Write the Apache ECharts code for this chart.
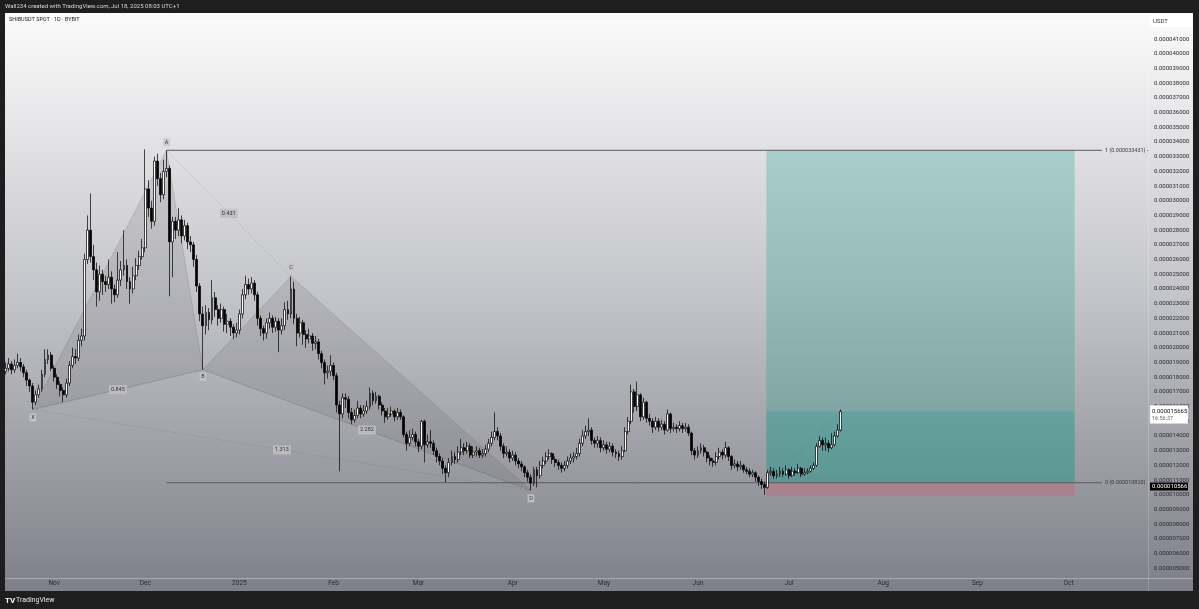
<!DOCTYPE html>
<html><head><meta charset="utf-8">
<script src="https://cdn.jsdelivr.net/npm/echarts@6/dist/echarts.min.js"></script>
<style>html,body{margin:0;padding:0;background:#1e1e1e;overflow:hidden}#c{width:1199px;height:609px}</style>
</head><body><div id="c"></div>
<script>
// ---- DATA (prices in units of 1e-6 USDT) ----
const startDate = [2024, 9, 16];   // 16 Oct 2024 (first category)
const numDays = 377;                 // categories through 27 Oct 2025
const firstOpen = 18.4;
const closes = [
18.6,18.9,18.5,18.8,19.0,18.7,18.3,17.8,17.4,16.3,
16.8,17.2,18.2,19.2,19.5,18.6,18.0,17.5,17.1,16.8,
17.6,18.8,19.4,19.3,20.5,20.8,26.0,28.0,26.2,25.3,
23.8,25.0,24.5,24.3,24.8,24.0,23.6,24.6,25.3,25.6,
24.5,24.0,24.9,25.6,26.2,26.8,30.8,29.5,28.6,32.7,
31.5,30.4,32.0,32.2,27.2,28.6,28.0,28.7,27.6,28.3,
27.2,27.0,26.0,24.2,22.3,21.5,22.4,21.9,23.4,22.6,
22.0,22.6,21.6,21.8,21.4,21.0,21.2,22.3,23.6,24.3,
24.0,24.4,23.6,22.0,21.3,21.0,21.7,22.0,21.4,21.8,
21.2,21.5,22.6,22.3,24.0,22.0,21.0,21.7,20.9,20.6,
20.8,20.3,20.4,19.6,19.0,18.3,18.4,18.8,18.1,16.1,
15.5,16.6,16.5,15.6,15.1,15.4,15.9,15.5,15.7,16.0,
16.9,16.4,16.7,16.1,15.7,15.3,15.5,15.7,15.3,15.6,
15.3,14.1,13.5,13.9,14.1,13.6,13.3,15.0,13.4,13.6,
13.5,13.0,12.6,12.3,11.8,11.5,12.2,12.6,12.4,12.9,
13.2,13.0,13.3,12.7,12.9,13.0,12.7,12.8,13.1,13.5,
13.9,14.3,14.0,13.3,12.8,12.9,12.5,12.7,12.3,12.1,
11.9,11.5,11.2,10.8,11.7,11.3,12.0,12.3,12.6,12.8,
12.4,12.2,12.0,11.8,12.0,12.3,12.5,12.6,12.8,13.5,
14.0,14.3,14.4,13.7,13.5,13.7,13.2,13.4,13.1,13.3,
12.9,12.8,12.6,13.0,14.3,15.0,17.0,16.0,16.8,15.3,
16.3,15.2,15.0,14.6,15.0,14.6,14.8,14.4,15.5,14.5,
14.6,14.5,14.7,14.5,14.6,14.2,13.0,12.7,13.0,13.2,
12.9,12.5,12.3,12.2,12.6,12.9,12.7,13.2,12.6,12.0,
12.1,11.9,12.0,11.7,11.6,11.4,11.5,11.2,10.9,10.7,
10.5,11.5,11.6,11.3,11.4,11.6,11.4,11.7,11.3,11.6,
11.5,11.8,11.4,11.5,11.6,11.8,12.0,13.3,13.7,13.4,
13.5,13.2,13.4,14.0,14.4,15.665];
const highs = [
19.0,19.3,19.1,19.2,19.6,19.3,18.9,18.5,17.9,17.6,
17.1,17.5,18.5,19.9,19.9,19.7,18.8,18.2,17.7,17.3,
17.9,19.1,20.0,19.9,20.9,21.3,26.4,29.0,30.5,27.0,
25.8,25.6,25.3,24.9,26.0,25.2,24.3,26.5,25.9,28.0,
26.0,24.8,25.5,26.1,26.6,27.4,33.5,31.4,30.0,33.0,
33.2,31.9,32.8,33.431,32.4,28.9,28.9,29.5,29.0,28.7,
28.5,27.6,27.2,26.3,24.4,22.8,22.9,22.7,24.6,23.8,
22.9,23.0,22.8,22.3,22.0,21.6,21.7,22.6,24.0,24.9,
24.7,24.8,24.6,23.8,22.2,21.5,22.0,22.4,22.2,22.1,
22.0,22.0,23.1,23.2,24.85,24.5,22.3,22.1,21.9,21.2,
21.3,21.0,20.8,20.6,19.8,19.2,18.8,19.5,19.0,18.3,
16.4,16.9,16.9,16.7,15.9,15.8,16.4,16.1,16.1,16.4,
17.3,17.1,17.0,16.8,16.3,15.9,15.9,16.0,15.8,15.9,
15.8,15.4,14.3,14.4,14.5,14.3,13.8,15.1,15.1,14.1,
14.4,13.7,13.2,12.8,12.5,12.0,12.5,13.0,12.9,13.3,
13.8,13.5,13.6,13.5,13.3,13.3,13.2,13.1,13.4,13.8,
14.3,15.6,14.6,14.2,13.5,13.3,13.1,13.0,12.9,12.5,
12.3,12.0,11.7,11.4,11.9,11.9,12.3,12.6,12.9,13.1,
12.9,12.6,12.4,12.2,12.3,12.6,12.8,12.9,13.2,13.8,
14.4,14.7,15.2,14.6,13.9,14.0,13.9,13.7,13.6,13.6,
13.5,13.1,13.0,13.3,14.6,15.3,17.5,17.2,17.7,16.9,
16.6,16.4,15.5,15.2,15.3,15.2,15.1,15.0,15.8,15.6,
14.9,14.8,15.0,14.9,14.9,14.8,14.3,13.2,13.3,13.5,
13.4,13.0,12.7,12.5,12.9,13.2,13.1,13.6,13.3,12.7,
12.4,12.3,12.3,12.1,11.9,11.8,11.7,11.6,11.3,11.1,
10.9,11.7,11.9,11.8,11.7,11.9,11.8,12.0,11.8,11.9,
11.8,12.1,11.9,11.8,11.8,12.0,12.2,13.5,14.0,13.9,
13.9,13.7,14.2,14.3,14.8,15.8];
const lows = [
18.2,18.4,18.2,18.3,18.6,18.4,18.0,17.4,17.0,15.8,
16.1,16.6,17.0,18.0,18.9,18.4,17.7,17.2,16.7,16.3,
16.6,17.4,18.6,18.9,19.1,20.1,20.5,25.7,25.8,24.6,
22.8,23.2,23.6,23.8,24.0,23.0,23.1,23.4,24.2,24.9,
24.0,23.0,23.7,24.6,25.3,26.0,26.5,28.9,28.1,28.3,
31.0,29.9,30.1,31.6,23.5,24.8,27.4,27.6,27.1,27.3,
26.7,26.5,25.5,23.8,21.8,18.5,20.9,21.2,21.6,22.1,
21.5,21.7,21.1,21.0,20.8,20.6,20.7,20.9,22.0,23.3,
23.6,23.7,23.2,21.5,20.8,20.5,20.6,21.3,21.0,21.1,
19.7,20.9,21.2,21.9,22.0,21.6,20.1,20.7,20.2,20.0,
20.3,19.8,19.9,19.2,18.6,17.5,17.9,18.1,17.8,15.6,
11.6,15.2,15.9,15.2,14.8,14.9,15.2,15.2,15.3,15.5,
15.8,16.1,16.2,15.8,15.4,14.9,15.1,15.3,15.0,15.1,
15.1,13.9,13.0,13.3,13.7,13.3,12.9,13.1,12.2,13.2,
13.2,12.7,12.2,12.0,11.4,10.85,11.2,12.0,12.1,12.2,
12.7,12.7,12.8,12.5,12.5,12.6,12.5,12.5,12.6,12.9,
13.3,13.7,13.7,13.0,12.5,12.6,12.2,12.3,12.0,11.8,
11.6,11.2,10.9,10.3,10.6,10.5,11.1,11.8,12.1,12.4,
12.1,11.9,11.7,11.5,11.6,11.8,12.1,12.2,12.4,12.6,
13.3,13.8,14.0,13.4,13.2,13.2,12.9,13.0,12.8,12.9,
12.6,12.5,12.3,12.4,12.9,14.1,14.8,15.6,15.7,15.0,
15.1,14.9,14.7,14.2,14.4,14.3,14.4,14.1,14.3,14.2,
14.3,14.2,14.3,14.2,14.3,14.0,12.7,12.4,12.5,12.8,
12.6,12.2,12.0,11.9,12.0,12.4,12.4,12.5,12.3,11.7,
11.8,11.6,11.7,11.5,11.4,11.2,11.2,10.9,10.6,10.4,
10.0,10.4,11.3,11.1,11.1,11.2,11.2,11.3,11.1,11.2,
11.3,11.4,11.2,11.3,11.4,11.5,11.7,11.9,13.2,13.0,
13.0,12.9,13.1,13.3,13.9,14.3];
const tickLabels = {'2024-11':'Nov','2024-12':'Dec','2025-01':'2025','2025-02':'Feb','2025-03':'Mar','2025-04':'Apr',
  '2025-05':'May','2025-06':'Jun','2025-07':'Jul','2025-08':'Aug','2025-09':'Sep','2025-10':'Oct'};
const yMin = 5, yMax = 42, yStep = 1;
// harmonic pattern points [category index, price]
const pointNames = ['X','A','B','C','D'];
const pointIdx   = [9, 53, 65, 94, 173];
const pointPrice = [15.8, 33.431, 18.5, 24.85, 10.3];
const ratioLegs  = [['X','B','0.845'],['A','C','0.431'],['B','D','2.282'],['X','D','1.313']];
// fib levels
const fibLevels = [1, 0];
const fibPrices = [33.431, 10.82];
const fibFromIdx = 53, fibToIdx = 361;
// long position tool
const posFromIdx = 251, posToIdx = 352;
const posEntry = 10.82, posTarget = 33.431, posStop = 9.95, lastPrice = 15.665;
const countdown = '16:56:37';
const markerPrice = 10.566;

// ---- build ----
const dates = [];
for (let k = 0; k < numDays; k++) {
  const d = new Date(Date.UTC(startDate[0], startDate[1], startDate[2] + k));
  dates.push(d.toISOString().slice(0, 10));
}
const candles = closes.map((c, i) => [i === 0 ? firstOpen : closes[i - 1], c, lows[i], highs[i]]);
const fmt = v => (v / 1e6).toFixed(9);
const FONT = 'Roboto';

const chart = echarts.init(document.getElementById('c'));
chart.setOption({
  backgroundColor: '#1e1e1e',
  animation: false,
  grid: { left: 4, right: 50, top: 24.3, bottom: 40.7 },
  xAxis: {
    type: 'category', data: dates, boundaryGap: true,
    axisLine: { show: false }, axisTick: { show: false }, splitLine: { show: false },
    axisLabel: {
      interval: (idx, val) => val.slice(8) === '01' && tickLabels[val.slice(0, 7)] !== undefined,
      formatter: val => tickLabels[val.slice(0, 7)] || '',
      fontSize: 6.5, color: '#2a2a30', margin: 12, fontFamily: FONT
    }
  },
  yAxis: {
    type: 'value', position: 'right', min: yMin, max: yMax, interval: yStep,
    axisLine: { show: false }, axisTick: { show: false }, splitLine: { show: false },
    axisLabel: { showMaxLabel: false, formatter: fmt, fontSize: 6, color: '#2a2a30', margin: 5, fontFamily: FONT }
  },
  series: [{
    type: 'candlestick', data: candles, barWidth: 2.4, z: 5,
    itemStyle: { color: '#ffffff', color0: '#000000', borderColor: '#000000', borderColor0: '#000000', borderWidth: 0.7 }
  }]
});

const P = (i, v) => chart.convertToPixel({ xAxisIndex: 0, yAxisIndex: 0 }, [i, v]);
const pt = {};
pointNames.forEach((n, k) => pt[n] = P(pointIdx[k], pointPrice[k]));
const g = [];
// panel background
g.push({ type: 'rect', z: -100, silent: true, shape: { x: 5, y: 13, width: 1188, height: 578 },
  style: { fill: new echarts.graphic.LinearGradient(0, 0, 0, 1, [{ offset: 0, color: '#fbfbfb' }, { offset: 0.5, color: '#c2c3c8' }, { offset: 1, color: '#7e7f88' }]) } });
// separators
g.push({ type: 'line', z: -90, silent: true, shape: { x1: 1148.5, y1: 13, x2: 1148.5, y2: 591 }, style: { stroke: 'rgba(255,255,255,0.2)', lineWidth: 1 } });
g.push({ type: 'line', z: -90, silent: true, shape: { x1: 5, y1: 578.5, x2: 1193, y2: 578.5 }, style: { stroke: 'rgba(255,255,255,0.3)', lineWidth: 1 } });
// header texts
g.push({ type: 'text', z: 50, silent: true, style: { text: 'Wall234 created with TradingView.com, Jul 18, 2025 08:03 UTC+1', x: 5, y: 6.5, fill: '#d8d8d8', fontSize: 6, fontFamily: FONT, verticalAlign: 'middle' } });
g.push({ type: 'text', z: 50, silent: true, style: { text: 'SHIBUSDT SPOT · 1D · BYBIT', x: 9, y: 19.5, fill: '#222', fontSize: 5.5, fontFamily: FONT, verticalAlign: 'middle' } });
g.push({ type: 'rect', z: 40, silent: true, shape: { x: 1150, y: 14, width: 42, height: 13 }, style: { fill: '#ffffff' } });
g.push({ type: 'text', z: 50, silent: true, style: { text: 'USDT', x: 1153, y: 21, fill: '#333', fontSize: 6, fontFamily: FONT, verticalAlign: 'middle' } });
// TradingView logo
g.push({ type: 'text', z: 50, silent: true, style: { text: 'TV', x: 5, y: 600.5, fill: '#ffffff', fontSize: 8, fontWeight: 'bold', fontFamily: FONT, verticalAlign: 'middle' } });
g.push({ type: 'text', z: 50, silent: true, style: { text: 'TradingView', x: 16, y: 600.5, fill: '#e8e8e8', fontSize: 7, fontFamily: FONT, verticalAlign: 'middle' } });

// harmonic triangles
const tri = (a, b, c) => ({ type: 'polygon', z: 1, silent: true, shape: { points: [pt[a], pt[b], pt[c]] },
  style: { fill: 'rgba(95,95,100,0.16)', stroke: 'rgba(90,90,95,0.35)', lineWidth: 0.6 } });
g.push(tri('X', 'A', 'B'));
g.push(tri('B', 'C', 'D'));
ratioLegs.forEach(([a, b, t]) => {
  g.push({ type: 'line', z: 2, silent: true, shape: { x1: pt[a][0], y1: pt[a][1], x2: pt[b][0], y2: pt[b][1] },
    style: { stroke: 'rgba(90,90,95,0.45)', lineWidth: 0.6, lineDash: [1.5, 2] } });
  g.push({ type: 'text', z: 20, silent: true, style: { text: t, x: (pt[a][0] + pt[b][0]) / 2, y: (pt[a][1] + pt[b][1]) / 2,
    fill: '#333', fontSize: 5.5, fontFamily: FONT, align: 'center', verticalAlign: 'middle',
    backgroundColor: 'rgba(190,190,194,0.9)', padding: [1.5, 2] } });
});
const labelOff = { X: 8, A: -8, B: 7, C: -9, D: 8 };
pointNames.forEach(n => {
  g.push({ type: 'text', z: 20, silent: true, style: { text: n, x: pt[n][0], y: pt[n][1] + labelOff[n],
    fill: '#333', fontSize: 5.5, fontFamily: FONT, align: 'center', verticalAlign: 'middle',
    backgroundColor: 'rgba(200,200,204,0.85)', padding: [1, 1.5] } });
});

// position tool
const pL = P(posFromIdx, posTarget)[0] - 1.5, pR = P(posToIdx, posTarget)[0];
const yT = P(0, posTarget)[1], yE = P(0, posEntry)[1], yS = P(0, posStop)[1], yC = P(0, lastPrice)[1];
g.push({ type: 'rect', z: 0, silent: true, shape: { x: pL, y: yT, width: pR - pL, height: yE - yT }, style: { fill: 'rgba(8,153,129,0.25)' } });
g.push({ type: 'rect', z: 0, silent: true, shape: { x: pL, y: yC, width: pR - pL, height: yE - yC }, style: { fill: 'rgba(8,150,135,0.22)' } });
g.push({ type: 'rect', z: 0, silent: true, shape: { x: pL, y: yE, width: pR - pL, height: yS - yE }, style: { fill: 'rgba(242,54,69,0.22)' } });
const e0 = P(posFromIdx, posEntry), c0 = P(closes.length - 1, lastPrice);
g.push({ type: 'line', z: 2, silent: true, shape: { x1: e0[0], y1: e0[1], x2: c0[0], y2: c0[1] }, style: { stroke: 'rgba(60,60,60,0.35)', lineWidth: 0.6, lineDash: [1.5, 2] } });

// fib lines
fibLevels.forEach((lv, k) => {
  const a = P(fibFromIdx, fibPrices[k]), b = P(fibToIdx, fibPrices[k]);
  g.push({ type: 'line', z: 3, silent: true, shape: { x1: a[0], y1: a[1], x2: b[0], y2: b[1] }, style: { stroke: '#5a5a5e', lineWidth: 1 } });
  g.push({ type: 'text', z: 20, silent: true, style: { text: lv + ' (' + fmt(fibPrices[k]) + ')' + (lv === 1 ? ' -' : ''),
    x: b[0] + 3, y: b[1], fill: '#3a3a3e', fontSize: 5.5, fontFamily: FONT, verticalAlign: 'middle' } });
});

// price tags
g.push({ type: 'rect', z: 40, silent: true, shape: { x: 1150, y: yC - 6, width: 38, height: 18 }, style: { fill: '#ffffff', stroke: '#ddd', lineWidth: 0.5 } });
g.push({ type: 'text', z: 50, silent: true, style: { text: fmt(lastPrice), x: 1152, y: yC, fill: '#111', fontSize: 6, fontFamily: FONT, verticalAlign: 'middle' } });
g.push({ type: 'text', z: 50, silent: true, style: { text: countdown, x: 1152, y: yC + 7, fill: '#666', fontSize: 5.5, fontFamily: FONT, verticalAlign: 'middle' } });
const yM = P(0, markerPrice)[1];
g.push({ type: 'rect', z: 40, silent: true, shape: { x: 1150, y: yM - 4, width: 38, height: 8 }, style: { fill: '#000000' } });
g.push({ type: 'text', z: 50, silent: true, style: { text: fmt(markerPrice), x: 1152, y: yM, fill: '#ffffff', fontSize: 6, fontFamily: FONT, verticalAlign: 'middle' } });

chart.setOption({ graphic: { elements: g } });
</script></body></html>
